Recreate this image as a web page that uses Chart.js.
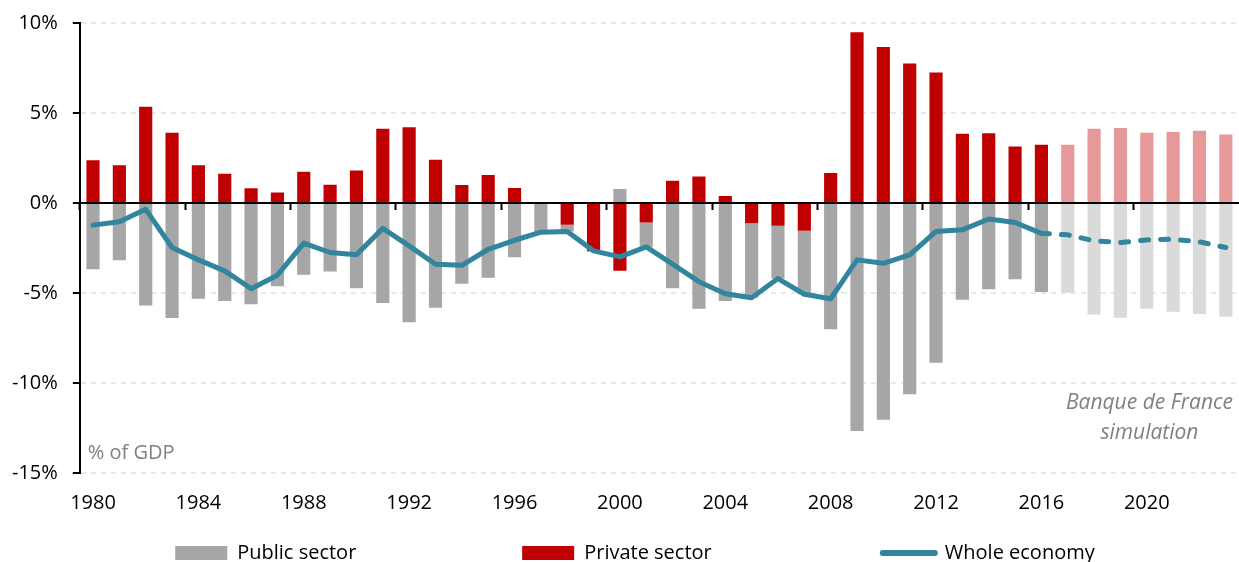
<!DOCTYPE html>
<html>
<head>
<meta charset="utf-8">
<script src="https://cdn.jsdelivr.net/npm/chart.js@4.4.1/dist/chart.umd.min.js"></script>
<style>
  html, body { margin: 0; padding: 0; background: #fff; overflow: hidden; }
  #wrap { width: 1239px; height: 580px; position: relative; }
</style>
</head>
<body>
<div id="wrap"><canvas id="c"></canvas></div>
<script>
// ---- Data (percent of GDP) ----
const years = ['1980','1981','1982','1983','1984','1985','1986','1987','1988','1989',
               '1990','1991','1992','1993','1994','1995','1996','1997','1998','1999',
               '2000','2001','2002','2003','2004','2005','2006','2007','2008','2009',
               '2010','2011','2012','2013','2014','2015','2016','2017','2018','2019',
               '2020','2021','2022','2023'];

const privateSector = [2.37, 2.10, 5.35, 3.90, 2.10, 1.62, 0.82, 0.59, 1.73, 1.02,
                       1.80, 4.12, 4.21, 2.40, 1.00, 1.56, 0.84, 0.00, -1.21, -2.66,
                       -3.77, -1.08, 1.24, 1.47, 0.39, -1.12, -1.27, -1.54, 1.67, 9.48,
                       8.67, 7.75, 7.25, 3.85, 3.88, 3.14, 3.23, 3.23, 4.12, 4.16,
                       3.90, 3.94, 4.01, 3.81];

const publicSector = [-3.68, -3.18, -5.69, -6.39, -5.32, -5.45, -5.63, -4.63, -3.98, -3.81,
                      -4.74, -5.56, -6.62, -5.82, -4.48, -4.15, -3.01, -1.60, -0.37, -0.05,
                      0.78, -1.36, -4.74, -5.87, -5.45, -4.14, -2.93, -3.53, -7.02, -12.67,
                      -12.04, -10.63, -8.88, -5.37, -4.79, -4.24, -4.94, -4.98, -6.19, -6.38,
                      -5.87, -6.04, -6.17, -6.32];

const wholeEconomy = [-1.23, -1.04, -0.35, -2.47, -3.16, -3.77, -4.76, -4.01, -2.23, -2.75,
                      -2.88, -1.41, -2.38, -3.40, -3.46, -2.57, -2.07, -1.62, -1.58, -2.66,
                      -2.99, -2.44, -3.40, -4.37, -5.04, -5.26, -4.20, -5.07, -5.32, -3.16,
                      -3.35, -2.88, -1.58, -1.49, -0.89, -1.08, -1.69, -1.77, -2.10, -2.19,
                      -2.05, -2.01, -2.16, -2.47];

const firstSimulationYear = '2017';
const yTickValues = [-15, -10, -5, 0, 5, 10];
const labelEvery = 4;

// ---- Styles ----
const FONT = "'Open Sans', sans-serif";
const RED = '#C00000', RED_LIGHT = '#E6999A';
const GREY = '#A6A6A6', GREY_LIGHT = '#DADADA';
const TEAL = '#31859C';
const simIdx = years.indexOf(firstSimulationYear);

Chart.defaults.font.family = FONT;
Chart.defaults.font.size = 20;
Chart.defaults.color = '#000';

const annotations = {
  id: 'annotations',
  afterDatasetsDraw(chart) {
    const { ctx, chartArea, scales } = chart;
    const x = scales.x, y = scales.y;
    ctx.save();
    ctx.fillStyle = '#808080';
    ctx.textBaseline = 'middle';
    ctx.font = "20px " + FONT;
    ctx.textAlign = 'left';
    ctx.fillText('% of GDP', chartArea.left + 8, y.getPixelForValue(-13.9));
    ctx.font = "italic 21px " + FONT;
    ctx.textAlign = 'center';
    const cx = x.getPixelForValue(40.1);
    ctx.fillText('Banque de France', cx, y.getPixelForValue(-11.1));
    ctx.fillText('simulation', cx, y.getPixelForValue(-12.8));
    ctx.restore();
  }
};

const gapA = ' '.repeat(30);
const gapB = ' '.repeat(31);
const tail = ' '.repeat(27);

new Chart(document.getElementById('c'), {
  type: 'bar',
  data: {
    labels: years,
    datasets: [
      {
        type: 'line',
        label: 'Whole economy',
        data: wholeEconomy,
        borderColor: TEAL,
        backgroundColor: TEAL,
        borderWidth: 5,
        borderCapStyle: 'round',
        borderJoinStyle: 'round',
        pointRadius: 0,
        tension: 0,
        fill: false,
        stack: 'line',
        segment: {
          borderDash: c => (c.p0DataIndex >= simIdx - 1 ? [8, 12] : undefined)
        }
      },
      {
        label: 'Private sector',
        data: privateSector,
        backgroundColor: years.map((_, i) => (i >= simIdx ? RED_LIGHT : RED)),
        stack: 'bars',
        barPercentage: 0.5,
        categoryPercentage: 1
      },
      {
        label: 'Public sector',
        data: publicSector,
        backgroundColor: years.map((_, i) => (i >= simIdx ? GREY_LIGHT : GREY)),
        stack: 'bars',
        barPercentage: 0.5,
        categoryPercentage: 1
      }
    ]
  },
  options: {
    responsive: true,
    maintainAspectRatio: false,
    animation: false,
    layout: { padding: { left: -3, right: -6, top: 23, bottom: 7 } },
    scales: {
      x: {
        type: 'category',
        position: 'bottom',
        stacked: true,
        offset: true,
        afterFit: s => { s.paddingLeft = 0; s.paddingRight = 0; },
        grid: { display: false, drawTicks: false },
        border: { display: false },
        ticks: {
          autoSkip: false, maxRotation: 0, minRotation: 0, padding: 18,
          color: '#000', font: { size: 20 },
          callback: (v, i) => (i % labelEvery === 0 ? years[i] : '')
        }
      },
      xZero: {
        type: 'category',
        position: { y: 0 },
        offset: true,
        afterFit: s => { s.paddingLeft = 0; s.paddingRight = 0; },
        grid: {
          offset: true, drawOnChartArea: false, drawTicks: true, tickLength: 6,
          tickWidth: 2,
          tickColor: c => (c.index % labelEvery === 0 ? '#000' : 'rgba(0,0,0,0)'),
          color: 'rgba(0,0,0,0)'
        },
        border: { display: true, color: '#000', width: 2 },
        ticks: { display: false }
      },
      y: {
        stacked: true,
        min: yTickValues[0],
        max: yTickValues[yTickValues.length - 1],
        afterBuildTicks: s => { s.ticks = yTickValues.map(v => ({ value: v })); },
        afterFit: s => { s.paddingTop = 0; s.paddingBottom = 0; },
        ticks: { padding: 15, color: '#000', font: { size: 20 }, callback: v => v + '%' },
        grid: {
          color: c => (c.tick && c.tick.value === 0 ? 'rgba(0,0,0,0)' : '#E8E8E8'),
          lineWidth: 2, tickLength: 7, tickColor: '#000', tickWidth: 2
        },
        border: { display: true, color: '#000', width: 2, dash: [5, 5] }
      }
    },
    plugins: {
      tooltip: { enabled: false },
      legend: {
        position: 'bottom',
        align: 'end',
        labels: {
          usePointStyle: true,
          pointStyleWidth: 52,
          boxHeight: 14,
          padding: 10,
          color: '#000',
          font: { size: 20 },
          generateLabels: () => [
            { text: 'Public sector' + gapA, fillStyle: GREY, strokeStyle: GREY, lineWidth: 0, pointStyle: 'rect', datasetIndex: 2, fontColor: '#000' },
            { text: 'Private sector' + gapB, fillStyle: RED, strokeStyle: RED, lineWidth: 0, pointStyle: 'rect', datasetIndex: 1, fontColor: '#000' },
            { text: 'Whole economy' + tail, fillStyle: TEAL, strokeStyle: TEAL, lineWidth: 6, lineCap: 'round', pointStyle: 'line', datasetIndex: 0, fontColor: '#000' }
          ]
        }
      }
    }
  },
  plugins: [annotations]
});
</script>
</body>
</html>
